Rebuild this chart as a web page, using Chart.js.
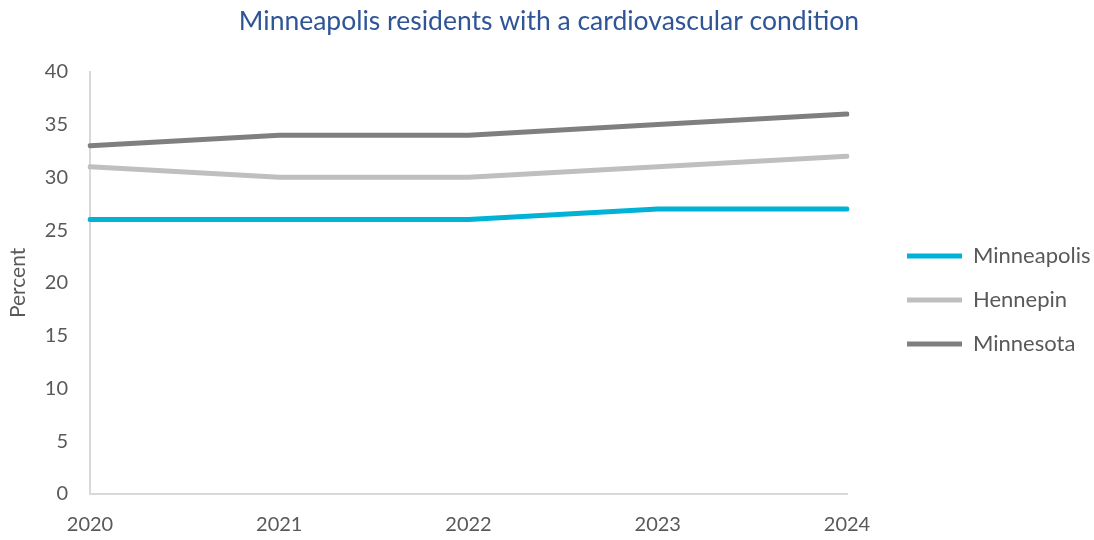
<!DOCTYPE html>
<html>
<head>
<meta charset="utf-8">
<script src="https://cdn.jsdelivr.net/npm/chart.js@4.4.0/dist/chart.umd.min.js"></script>
<style>
  html, body { margin: 0; padding: 0; background: #fff; }
  #wrap { width: 1094px; height: 540px; }
</style>
</head>
<body>
<div id="wrap"><canvas id="myChart"></canvas></div>
<script>
// chart data
let years = ['2020', '2021', '2022', '2023', '2024'];
let minneapolis = [26, 26, 26, 27, 27];
let hennepin = [31, 30, 30, 31, 32];
let minnesota = [33, 34, 34, 35, 36];

let textColor = '#595959';
let fontFamily = 'Lato, "Open Sans", sans-serif';

// legend box: fixed width, items pushed a bit right of the plot and down
let legendWidth = 247;
let legendGap = 38;
let legendDrop = 28;

function lineSet(label, values, color) {
    return {
        label: label,
        data: values,
        borderColor: color,
        backgroundColor: color,
        borderWidth: 5,
        borderCapStyle: 'round',
        borderJoinStyle: 'round',
        pointRadius: 0,
        pointHoverRadius: 0,
        tension: 0,
        fill: false
    };
}

let legendSpacer = {
    id: 'legendSpacer',
    beforeInit(chart) {
        let fit = chart.legend.fit;
        chart.legend.fit = function () {
            fit.call(this);
            this.width = legendWidth;
        };
    },
    afterLayout(chart) {
        chart.legend.left += legendGap;
        chart.legend.top += legendDrop;
        chart.legend.bottom += legendDrop;
    }
};

let ctx = document.getElementById('myChart').getContext('2d');
let myChart = new Chart(ctx, {
    type: 'line',
    data: {
        labels: years,
        datasets: [
            lineSet('Minneapolis', minneapolis, '#00B3D6'),
            lineSet('Hennepin', hennepin, '#BFBFBF'),
            lineSet('Minnesota', minnesota, '#7F7F7F')
        ]
    },
    plugins: [legendSpacer],
    options: {
        responsive: true,
        maintainAspectRatio: false,
        animation: false,
        layout: {
            padding: { left: 4, right: 0, top: 4, bottom: 0 }
        },
        plugins: {
            title: {
                display: true,
                text: 'Minneapolis residents with a cardiovascular condition',
                color: '#2F5597',
                font: { family: fontFamily, size: 26.5, weight: 'normal' },
                padding: { top: 2, bottom: 34 }
            },
            legend: {
                position: 'right',
                align: 'center',
                labels: {
                    color: textColor,
                    font: { family: fontFamily, size: 22 },
                    usePointStyle: true,
                    pointStyle: 'line',
                    pointStyleWidth: 55,
                    boxHeight: 18,
                    padding: 22
                }
            },
            tooltip: { enabled: false }
        },
        scales: {
            x: {
                offset: false,
                grid: { display: false, drawTicks: false },
                border: { color: '#D9D9D9', width: 2 },
                ticks: {
                    color: textColor,
                    font: { family: fontFamily, size: 20 },
                    padding: 19,
                    maxRotation: 0
                },
                afterFit(scale) {
                    scale.height = 46;
                }
            },
            y: {
                min: 0,
                max: 40,
                grid: { display: false, drawTicks: false },
                border: { color: '#D9D9D9', width: 2 },
                ticks: {
                    stepSize: 5,
                    color: textColor,
                    font: { family: fontFamily, size: 20 },
                    padding: 22
                },
                title: {
                    display: true,
                    text: 'Percent',
                    color: textColor,
                    font: { family: fontFamily, size: 21 },
                    padding: { top: 2, bottom: 0 }
                },
                afterFit(scale) {
                    scale.width = 86;
                }
            }
        }
    }
});
</script>
</body>
</html>
